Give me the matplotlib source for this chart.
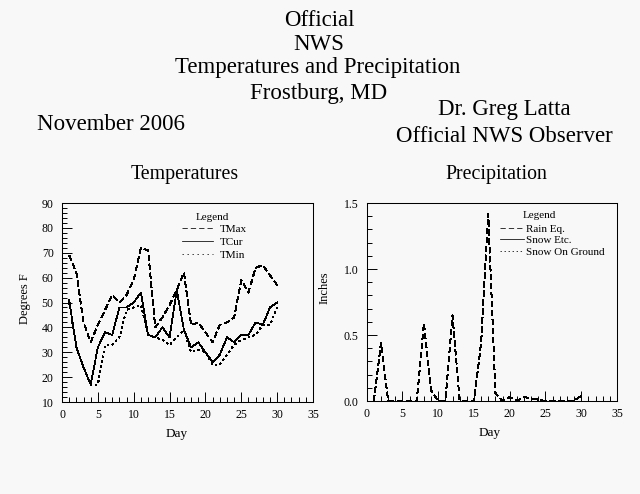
import matplotlib
matplotlib.use("Agg")
import matplotlib.pyplot as plt
from matplotlib.ticker import MultipleLocator, FormatStrFormatter
from matplotlib.lines import Line2D

plt.rcParams['font.family'] = ['Liberation Serif', 'DejaVu Serif']
plt.rcParams['lines.scale_dashes'] = False

# ---------------- data ----------------
days = list(range(1, 31))
tmax = [69, 62, 42, 34, 41, 47, 53, 50, 53, 59, 72, 71, 40, 44, 49, 55, 62, 41, 42, 38,
        34, 41, 42, 44, 59, 54, 64, 65, 61, 57]
tcur = [51, 32, 24, 17, 32, 38, 37, 48, 48, 50, 54, 37, 36, 40, 36, 55, 39, 32, 34, 30,
        26, 29, 36, 34, 37, 37, 42, 41, 48, 50]
tmin = [50, 32, 24, 17, 17, 33, 33, 36, 47, 48, 49, 37, 36, 35, 33, 36, 39, 30, 31, 30,
        25, 25, 29, 33, 35, 36, 37, 41, 41, 48]

rain_eq = [0, 0.44, 0, 0, 0, 0, 0, 0.59, 0.08, 0, 0, 0.65, 0, 0, 0, 0.44, 1.42, 0.06, 0, 0.03,
           0, 0.03, 0.02, 0.01, 0, 0, 0, 0, 0, 0.04]
snow_etc = [0] * 30
snow_ground = [0] * 30

temp_labels = ["TMax", "TCur", "TMin"]
precip_labels = ["Rain Eq.", "Snow Etc.", "Snow On Ground"]

# ---------------- figure ----------------
W, H = 640, 494
fig = plt.figure(figsize=(W / 100, H / 100), dpi=100)
bg = '#f8f8f8'
fig.patch.set_facecolor(bg)

def fx(px):
    return px / W

def fy(py):
    return 1 - py / H

big = 16.5
sub = 14.3
fig.text(fx(319), fy(21), "Official", ha='center', va='center', fontsize=big)
fig.text(fx(319), fy(45), "NWS", ha='center', va='center', fontsize=big)
fig.text(fx(318), fy(68), "Temperatures and Precipitation", ha='center', va='center', fontsize=big)
fig.text(fx(319), fy(93), "Frostburg, MD", ha='center', va='center', fontsize=big)
fig.text(fx(111), fy(125), "November 2006", ha='center', va='center', fontsize=big)
fig.text(fx(504), fy(110), "Dr. Greg Latta", ha='center', va='center', fontsize=big)
fig.text(fx(504), fy(136), "Official NWS Observer", ha='center', va='center', fontsize=big)
fig.text(fx(185), fy(175), "Temperatures", ha='center', va='center', fontsize=sub)
fig.text(fx(496), fy(175), "Precipitation", ha='center', va='center', fontsize=sub)

ax1 = fig.add_axes([fx(62), fy(402), fx(313) - fx(62), fy(203) - fy(402)])
ax2 = fig.add_axes([fx(366.7), fy(401), fx(617) - fx(366.7), fy(203) - fy(401)])

lw = 0.55
dash = (3.8, 2.2)
dot = (1.0, 2.6)
tick_fs = 8.5
leg_fs = 8

def style(ax):
    ax.set_facecolor(bg)
    for s in ax.spines.values():
        s.set_linewidth(0.75)
        s.set_color('black')
    ax.tick_params(which='both', direction='in', top=False, right=False,
                   width=0.7, color='black', labelsize=tick_fs)
    ax.tick_params(which='major', length=7.5)
    ax.tick_params(which='minor', length=3.6)
    ax.tick_params(axis='y', which='major', pad=6)
    ax.tick_params(axis='x', which='major', pad=5)

# temperatures
ax1.plot(days, tmax, color='black', lw=lw, dashes=dash, antialiased=False)
ax1.plot(days, tcur, color='black', lw=lw, antialiased=False)
ax1.plot(days, tmin, color='black', lw=lw, dashes=dot, antialiased=False)
ax1.set_xlim(0, 35)
ax1.set_ylim(10, 90)
ax1.xaxis.set_major_locator(MultipleLocator(5))
ax1.xaxis.set_minor_locator(MultipleLocator(1))
ax1.yaxis.set_major_locator(MultipleLocator(10))
ax1.yaxis.set_minor_locator(MultipleLocator(2))
style(ax1)
ax1.set_xlabel("Day", fontsize=9.5)
ax1.xaxis.set_label_coords(0.455, (402 - 428) / 199)
ax1.set_ylabel("Degrees F", fontsize=9)
ax1.yaxis.set_label_coords((31 - 62) / 251, 0.52)

h1 = [Line2D([], [], color='black', lw=lw, dashes=dash, antialiased=False),
      Line2D([], [], color='black', lw=lw, antialiased=False),
      Line2D([], [], color='black', lw=lw, dashes=dot, antialiased=False)]
ax1.text((212.5 - 62) / 251, (402 - 217) / 199, "Legend", transform=ax1.transAxes,
         ha='center', va='center', fontsize=leg_fs)
ax1.legend(h1, temp_labels, loc='upper left', bbox_to_anchor=((182 - 62) / 251, (402 - 224) / 199),
           frameon=False, fontsize=leg_fs, handlelength=2.8, handletextpad=0.6,
           labelspacing=0.3, borderpad=0, borderaxespad=0)

# precipitation
ax2.plot(days, rain_eq, color='black', lw=lw, dashes=dash, antialiased=False)
ax2.plot(days, snow_etc, color='black', lw=lw, antialiased=False)
ax2.plot(days, snow_ground, color='black', lw=lw, dashes=dot, antialiased=False)
ax2.set_xlim(0, 35)
ax2.set_ylim(0, 1.5)
ax2.xaxis.set_major_locator(MultipleLocator(5))
ax2.xaxis.set_minor_locator(MultipleLocator(1))
ax2.yaxis.set_major_locator(MultipleLocator(0.5))
ax2.yaxis.set_minor_locator(MultipleLocator(0.1))
ax2.yaxis.set_major_formatter(FormatStrFormatter('%.1f'))
style(ax2)
ax2.set_xlabel("Day", fontsize=9.5)
ax2.xaxis.set_label_coords((490 - 366.7) / 250.3, (401 - 427) / 198)
ax2.set_ylabel("Inches", fontsize=9)
ax2.yaxis.set_label_coords((331 - 366.7) / 250.3, 0.57)

h2 = [Line2D([], [], color='black', lw=lw, dashes=dash, antialiased=False),
      Line2D([], [], color='black', lw=lw, antialiased=False),
      Line2D([], [], color='black', lw=lw, dashes=(1.0, 1.9), antialiased=False)]
ax2.text((539 - 366.7) / 250.3, (401 - 215) / 198, "Legend", transform=ax2.transAxes,
         ha='center', va='center', fontsize=leg_fs)
ax2.legend(h2, precip_labels, loc='upper left', bbox_to_anchor=((500 - 366.7) / 250.3, (401 - 224) / 198),
           frameon=False, fontsize=leg_fs, handlelength=2.2, handletextpad=0.15,
           labelspacing=0.15, borderpad=0, borderaxespad=0)

fig.savefig("out.png", dpi=100, facecolor=bg)
